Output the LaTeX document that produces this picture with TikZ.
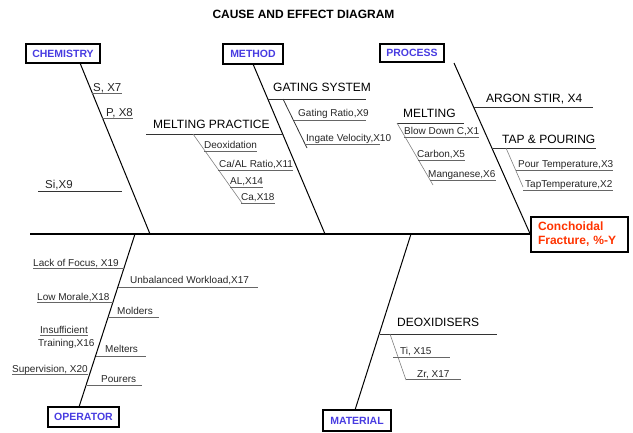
\documentclass[tikz,border=0pt]{standalone}
\usepackage{fontspec}
\setmainfont{Liberation Sans}
\definecolor{catblue}{RGB}{72,60,225}
\definecolor{effred}{RGB}{255,51,0}

\begin{document}
\begin{tikzpicture}[x=1pt, y=-1pt,
  spine/.style={line width=1.2pt},
  bone/.style={line width=1pt},
  catline/.style={line width=0.8pt, black!80},
  subbone/.style={line width=0.6pt, black!50},
  uline/.style={line width=0.6pt, black!60},
  catbox/.style={draw, line width=1.2pt, inner sep=0pt, text=catblue, font=\bfseries\fontsize{10.5}{12}\selectfont},
  head/.style={inner sep=0pt, anchor=base west, font=\fontsize{12}{14}\selectfont},
  item/.style={inner sep=0pt, anchor=base west, font=\fontsize{10}{12}\selectfont, text=black!85},
  chemitem/.style={item, font=\fontsize{11.5}{13}\selectfont}]
\useasboundingbox (0,0) rectangle (633,432);
% Title and boxes:
\node (title) [font=\bfseries\fontsize{12}{14}\selectfont] at (303.5,14) {CAUSE AND EFFECT DIAGRAM};
\node (chem) [catbox, minimum width=74pt, minimum height=19pt] at (63,53.5) {CHEMISTRY};
\node (meth) [catbox, minimum width=60pt, minimum height=20pt] at (253,54) {METHOD};
\node (proc) [catbox, minimum width=64pt, minimum height=18pt] at (412,53) {PROCESS};
\node (oper) [catbox, minimum width=71pt, minimum height=20pt] at (83.5,417) {OPERATOR};
\node (mat) [catbox, minimum width=68pt, minimum height=21pt] at (357,420.5) {MATERIAL};
\node (eff) [draw, line width=1.2pt, inner sep=0pt, minimum width=97pt, minimum height=35pt, text width=83pt, align=left, text=effred, font=\bfseries\fontsize{12}{14}\selectfont] at (579.5,234.5) {Conchoidal\\Fracture, \%-Y};
% Spine and main bones:
\coordinate (spineL) at (30,234);
\coordinate (chemS) at (150,234);
\coordinate (methS) at (325,234);
\coordinate (operS) at (135,234);
\coordinate (matS) at (411,234);
\coordinate (chemT) at (80,63);
\coordinate (methT) at (253,64);
\coordinate (procT) at (454,63);
\coordinate (operB) at (79,407);
\coordinate (matB) at (355,410);
\draw[spine] (spineL) -- (spineL -| eff.west);
\draw[bone] (chemT) -- (chemS);
\draw[bone] (methT) -- (methS);
\draw[bone] (procT) -- (eff.west);
\draw[bone] (operS) -- (operB);
\draw[bone] (matS) -- (matB);

% Chemistry:
\node (sx7) [chemitem] at (93,91.5) {S, X7};
\node (px8) [chemitem] at (106,116.5) {P, X8};
\node (six9) [chemitem] at (45,188) {Si,X9};
\coordinate (sx7a) at (92,93); \draw[uline] (sx7a) -- (sx7a -| sx7.east);
\coordinate (px8a) at (102,118); \draw[uline] (px8a) -- (px8a -| px8.east);
\coordinate (six9a) at (38,191); \coordinate (six9b) at (122,191); \draw[catline] (six9a) -- (six9b);

% Method:
\node (gs) [head] at (273,91) {GATING SYSTEM};
\coordinate (gsA) at (268,99); \coordinate (gsB) at (366,99); \draw[catline] (gsA) -- (gsB);
\coordinate (gsC) at (283,99); \coordinate (gsD) at (307,148); \draw[catline] (gsC) -- (gsD);
\node (gr) [item] at (298,116) {Gating Ratio,X9};
\coordinate (grA) at (294,120); \coordinate (grB) at (366,120); \draw[uline] (grA) -- (grB);
\node (iv) [item] at (306,141) {Ingate Velocity,X10};
\coordinate (ivA) at (305,144); \coordinate (ivB) at (380,144); \draw[uline] (ivA) -- (ivB);
\node (mp) [head] at (153,128) {MELTING PRACTICE};
\coordinate (mpA) at (146,134); \coordinate (mpB) at (282,134); \draw[catline] (mpA) -- (mpB);
\coordinate (mpC) at (193,134); \coordinate (mpD) at (242,203); \draw[subbone] (mpC) -- (mpD);
\node (deox) [item] at (204,148) {Deoxidation};
\node (caal) [item] at (219,167) {Ca/AL Ratio,X11};
\node (al14) [item] at (230,184) {AL,X14};
\node (ca18) [item] at (241,200) {Ca,X18};
\coordinate (deoxA) at (204,151); \draw[uline] (deoxA) -- (deoxA -| deox.east);
\coordinate (caalA) at (218,170); \draw[uline] (caalA) -- (caalA -| caal.east);
\coordinate (al14A) at (230,187); \draw[uline] (al14A) -- (al14A -| al14.east);
\coordinate (ca18A) at (241,203); \draw[uline] (ca18A) -- (ca18A -| ca18.east);

% Process:
\node (argon) [head] at (486,102) {ARGON STIR, X4};
\coordinate (argonA) at (474,107); \coordinate (argonB) at (593,107); \draw[catline] (argonA) -- (argonB);
\node (tap) [head] at (502,143) {TAP \& POURING};
\coordinate (tapA) at (493,148); \coordinate (tapB) at (596,148); \draw[catline] (tapA) -- (tapB);
\coordinate (tapC) at (506,148); \coordinate (tapD) at (523,187); \draw[subbone] (tapC) -- (tapD);
\node (pour) [item] at (518,167) {Pour Temperature,X3};
\node (taptemp) [item] at (525,187) {TapTemperature,X2};
\coordinate (pourA) at (516,170); \draw[uline] (pourA) -- (pourA -| pour.east);
\coordinate (taptempA) at (523,190); \draw[uline] (taptempA) -- (taptempA -| taptemp.east);
\node (melt) [head] at (403,117) {MELTING};
\coordinate (meltA) at (397,123); \coordinate (meltB) at (464,123); \draw[catline] (meltA) -- (meltB);
\coordinate (meltD) at (433,185); \draw[subbone] (meltA) -- (meltD);
\node (blow) [item] at (404,134) {Blow Down C,X1};
\node (carb) [item] at (417,157) {Carbon,X5};
\node (mang) [item] at (428,177) {Manganese,X6};
\coordinate (blowA) at (404,137); \draw[uline] (blowA) -- (blowA -| blow.east);
\coordinate (carbA) at (418,160); \draw[uline] (carbA) -- (carbA -| carb.east);
\coordinate (mangA) at (430,180); \draw[uline] (mangA) -- (mangA -| mang.east);

% Operator:
\node (lof) [item] at (33,266) {Lack of Focus, X19};
\node (unb) [item] at (130,283) {Unbalanced Workload,X17};
\node (lowm) [item] at (37,300) {Low Morale,X18};
\node (mold) [item] at (117,314) {Molders};
\node (insuf) [item] at (40,333) {Insufficient};
\node (train) [item] at (38,346.5) {Training,X16};
\node (melters) [item] at (105,352) {Melters};
\node (superv) [item] at (12,372) {Supervision, X20};
\node (pourers) [item] at (101,382) {Pourers};
\coordinate (lofB) at (124,268); \draw[uline] (lofB -| lof.west) -- (lofB);
\coordinate (unbA) at (118,287); \coordinate (unbB) at (258,287); \draw[uline] (unbA) -- (unbB);
\coordinate (lowmB) at (113,302); \draw[uline] (lowmB -| lowm.west) -- (lowmB);
\coordinate (moldA) at (108,317); \coordinate (moldB) at (159,317); \draw[uline] (moldA) -- (moldB);
\coordinate (insufA) at (40,335); \draw[uline] (insufA) -- (insufA -| insuf.east);
\coordinate (meltersA) at (96,356); \coordinate (meltersB) at (146,356); \draw[uline] (meltersA) -- (meltersB);
\coordinate (supervB) at (88,374); \draw[uline] (supervB -| superv.west) -- (supervB);
\coordinate (pourersA) at (87,385); \coordinate (pourersB) at (142,385); \draw[uline] (pourersA) -- (pourersB);

% Material:
\node (deoxi) [head] at (397,326) {DEOXIDISERS};
\coordinate (deoxiA) at (380,334); \coordinate (deoxiB) at (497,334); \draw[catline] (deoxiA) -- (deoxiB);
\coordinate (deoxiC) at (390,334); \coordinate (deoxiD) at (406,380); \draw[subbone] (deoxiC) -- (deoxiD);
\node (ti) [item] at (400,354) {Ti, X15};
\node (zr) [item] at (417,377) {Zr, X17};
\coordinate (tiA) at (393,357); \coordinate (tiB) at (450,357); \draw[uline] (tiA) -- (tiB);
\coordinate (zrA) at (406,379); \coordinate (zrB) at (461,379); \draw[uline] (zrA) -- (zrB);
\end{tikzpicture}
\end{document}
